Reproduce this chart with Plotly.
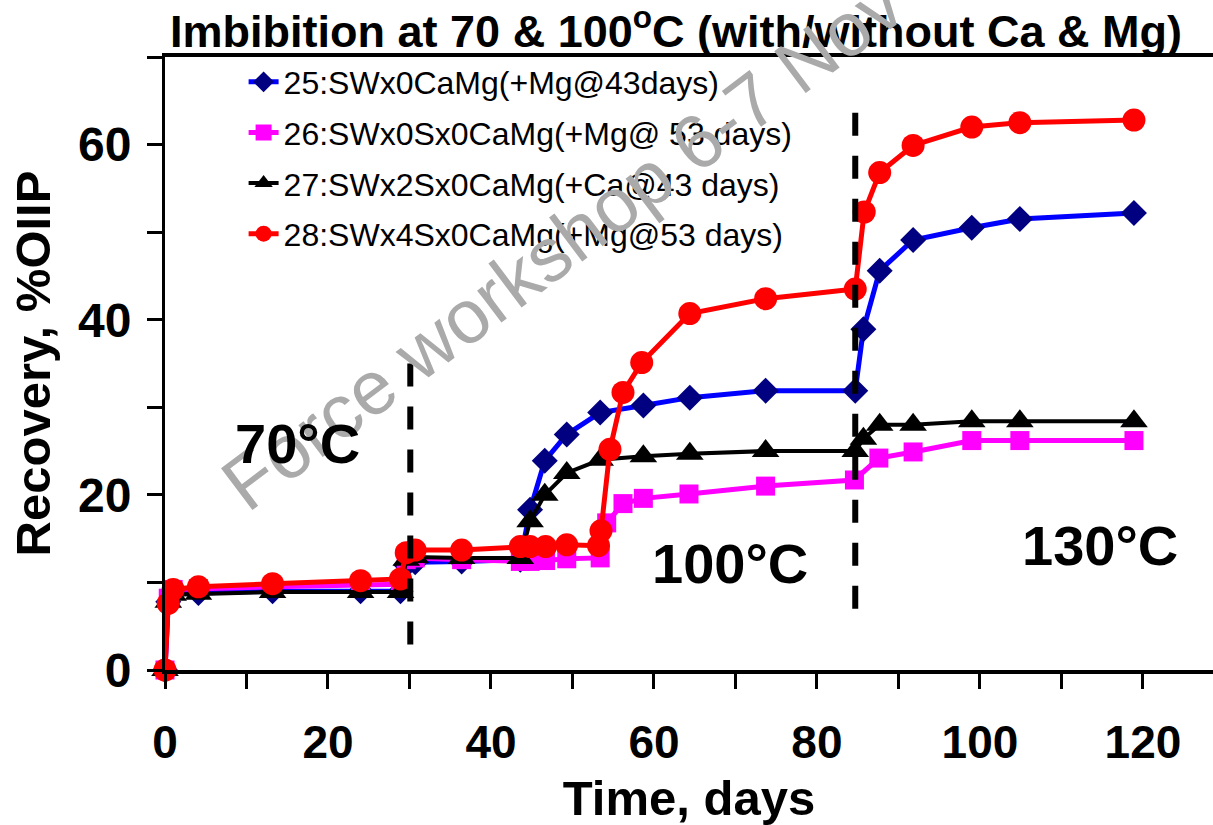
import plotly.graph_objects as go

# ---- data ----
days_25 = [0, 0.4, 1.0, 4.1, 13.2, 24.0, 28.9, 29.6, 30.7, 36.4, 43.6, 44.8, 46.6, 49.3, 53.4,
           58.7, 64.4, 73.7, 84.7, 85.7, 87.7, 91.8, 99.0, 104.9, 118.9]
rec_25 = [0, 7.8, 8.8, 8.8, 9.0, 9.0, 9.0, 12.0, 12.3, 12.4, 12.6, 18.3, 23.9, 26.9, 29.4,
          30.2, 31.1, 31.9, 31.9, 38.9, 45.6, 49.1, 50.5, 51.5, 52.2]

days_26 = [0, 0.4, 1.0, 4.1, 13.2, 24.0, 28.9, 29.6, 30.7, 36.4, 43.6, 44.8, 46.7, 49.3, 53.4,
           54.2, 56.2, 58.7, 64.3, 73.7, 84.6, 87.6, 91.8, 99.0, 104.9, 118.9]
rec_26 = [0, 8.2, 9.2, 9.3, 9.5, 9.7, 9.8, 12.6, 12.8, 12.6, 12.4, 12.4, 12.5, 12.7, 12.8,
          16.8, 19.0, 19.6, 20.1, 21.0, 21.7, 24.2, 24.9, 26.2, 26.2, 26.2]

days_27 = [0, 0.4, 1.0, 4.1, 13.2, 24.0, 28.9, 29.6, 30.7, 36.4, 43.6, 44.8, 46.6, 49.3, 53.4,
           58.7, 64.4, 73.7, 84.7, 85.7, 87.7, 91.8, 99.0, 104.9, 118.9]
rec_27 = [0, 7.8, 8.6, 8.7, 8.9, 8.9, 8.9, 12.6, 12.9, 12.8, 12.8, 17.0, 20.0, 22.5, 24.0,
          24.4, 24.7, 25.0, 25.0, 26.4, 28.0, 28.0, 28.4, 28.4, 28.4]

days_28 = [0, 0.4, 1.0, 4.1, 13.2, 24.0, 28.9, 29.6, 30.7, 36.4, 43.6, 44.8, 46.7, 49.3, 53.2,
           53.5, 54.6, 56.2, 58.5, 64.4, 73.7, 84.7, 85.8, 87.7, 91.8, 99.0, 104.9, 118.9]
rec_28 = [0, 7.6, 9.2, 9.5, 9.85, 10.2, 10.4, 13.4, 13.7, 13.7, 14.1, 14.1, 14.1, 14.3, 14.2,
          15.9, 25.2, 31.7, 35.1, 40.7, 42.4, 43.5, 52.3, 56.8, 59.9, 62.0, 62.5, 62.8]

series_names = [
    "25:SWx0CaMg(+Mg@43days)",
    "26:SWx0Sx0CaMg(+Mg@ 53 days)",
    "27:SWx2Sx0CaMg(+Ca@43 days)",
    "28:SWx4Sx0CaMg(+Mg@53 days)",
]

x_tick_vals = [0, 10, 20, 30, 40, 50, 60, 70, 80, 90, 100, 110, 120]
x_tick_text = ["0", "", "20", "", "40", "", "60", "", "80", "", "100", "", "120"]
y_tick_vals = [0, 10, 20, 30, 40, 50, 60, 70]
y_tick_text = ["0", "", "20", "", "40", "", "60", ""]

temp_change_days = [30.1, 84.7]
temp_labels = ["70°C", "100°C", "130°C"]

FONT = "Liberation Sans, Arial, sans-serif"

fig = go.Figure()

styles = [
    dict(line=dict(color="#0000FF", width=5),
         marker=dict(symbol="diamond", size=20, color="#000080")),
    dict(line=dict(color="#FF00FF", width=5),
         marker=dict(symbol="square", size=19, color="#FF00FF")),
    dict(line=dict(color="#000000", width=4),
         marker=dict(symbol="triangle-up", size=24, color="#000000")),
    dict(line=dict(color="#FF0000", width=5),
         marker=dict(symbol="circle", size=23, color="#FF0000")),
]
xs = [days_25, days_26, days_27, days_28]
ys = [rec_25, rec_26, rec_27, rec_28]

for i in range(4):
    fig.add_trace(go.Scatter(
        x=xs[i], y=ys[i], mode="lines+markers", name=series_names[i],
        legendgroup=f"g{i}", cliponaxis=False, **styles[i]))

# dashed temperature-change lines
fig.add_shape(type="line", x0=temp_change_days[0], x1=temp_change_days[0], y0=2.9, y1=35.3,
              xref="x", yref="y", line=dict(color="black", width=6, dash="23px,20px"))
fig.add_shape(type="line", x0=temp_change_days[1], x1=temp_change_days[1], y0=7.0, y1=63.8,
              xref="x", yref="y", line=dict(color="black", width=6, dash="23px,20px"))

# watermark
fig.add_annotation(text="Force workshop 6-7 Nov", xref="paper", yref="paper",
                   x=(562 - 165) / 1048, y=(670 - 243) / 613, xanchor="center", yanchor="middle",
                   showarrow=False, textangle=-37,
                   font=dict(family=FONT, size=76, color="#AAAAAA"))

# temperature labels
fig.add_annotation(text="<b>" + temp_labels[0] + "</b>", x=16.3, y=25.9, xref="x", yref="y",
                   showarrow=False, xanchor="center", yanchor="middle",
                   font=dict(family=FONT, size=56, color="black"))
fig.add_annotation(text="<b>" + temp_labels[1] + "</b>", x=69.3, y=12.2, xref="x", yref="y",
                   showarrow=False, xanchor="center", yanchor="middle",
                   font=dict(family=FONT, size=56, color="black"))
fig.add_annotation(text="<b>" + temp_labels[2] + "</b>", x=114.7, y=14.2, xref="x", yref="y",
                   showarrow=False, xanchor="center", yanchor="middle",
                   font=dict(family=FONT, size=56, color="black"))

fig.update_layout(
    width=1213, height=825,
    margin=dict(l=165, r=0, t=57, b=155),
    paper_bgcolor="white", plot_bgcolor="white",
    title=dict(text="<b>Imbibition at 70 & 100<sup>o</sup>C (with/without Ca & Mg)</b>",
               x=676 / 1213, xanchor="center", y=1 - 31 / 825, yanchor="middle",
               font=dict(family=FONT, size=45, color="black")),
    showlegend=True,
    legend=dict(x=0.075, y=1.004, xanchor="left", yanchor="top",
                bgcolor="rgba(0,0,0,0)", tracegroupgap=6,
                font=dict(family=FONT, size=32, color="black")),
    font=dict(family=FONT, color="black"),
)

fig.update_xaxes(
    range=[0, 128.6], showgrid=False, zeroline=False,
    showline=True, linecolor="black", linewidth=4, mirror=True,
    ticks="outside", ticklen=15, tickwidth=2.5, tickcolor="black",
    tickvals=x_tick_vals, ticktext=x_tick_text, ticklabelstandoff=14,
    tickfont=dict(family=FONT, size=46, color="black", weight="bold"),
    title=dict(text="<b>Time, days</b>", font=dict(family=FONT, size=49, color="black"),
               standoff=16),
)
fig.update_yaxes(
    range=[0, 70], showgrid=False, zeroline=False,
    showline=True, linecolor="black", linewidth=3, mirror=False,
    ticks="outside", ticklen=15, tickwidth=2.5, tickcolor="black",
    tickvals=y_tick_vals, ticktext=y_tick_text, ticklabelstandoff=6,
    tickfont=dict(family=FONT, size=48, color="black", weight="bold"),
    title=dict(text="<b>Recovery, %OIIP</b>", font=dict(family=FONT, size=49, color="black"),
               standoff=12),
)

fig.write_html("out.html")
